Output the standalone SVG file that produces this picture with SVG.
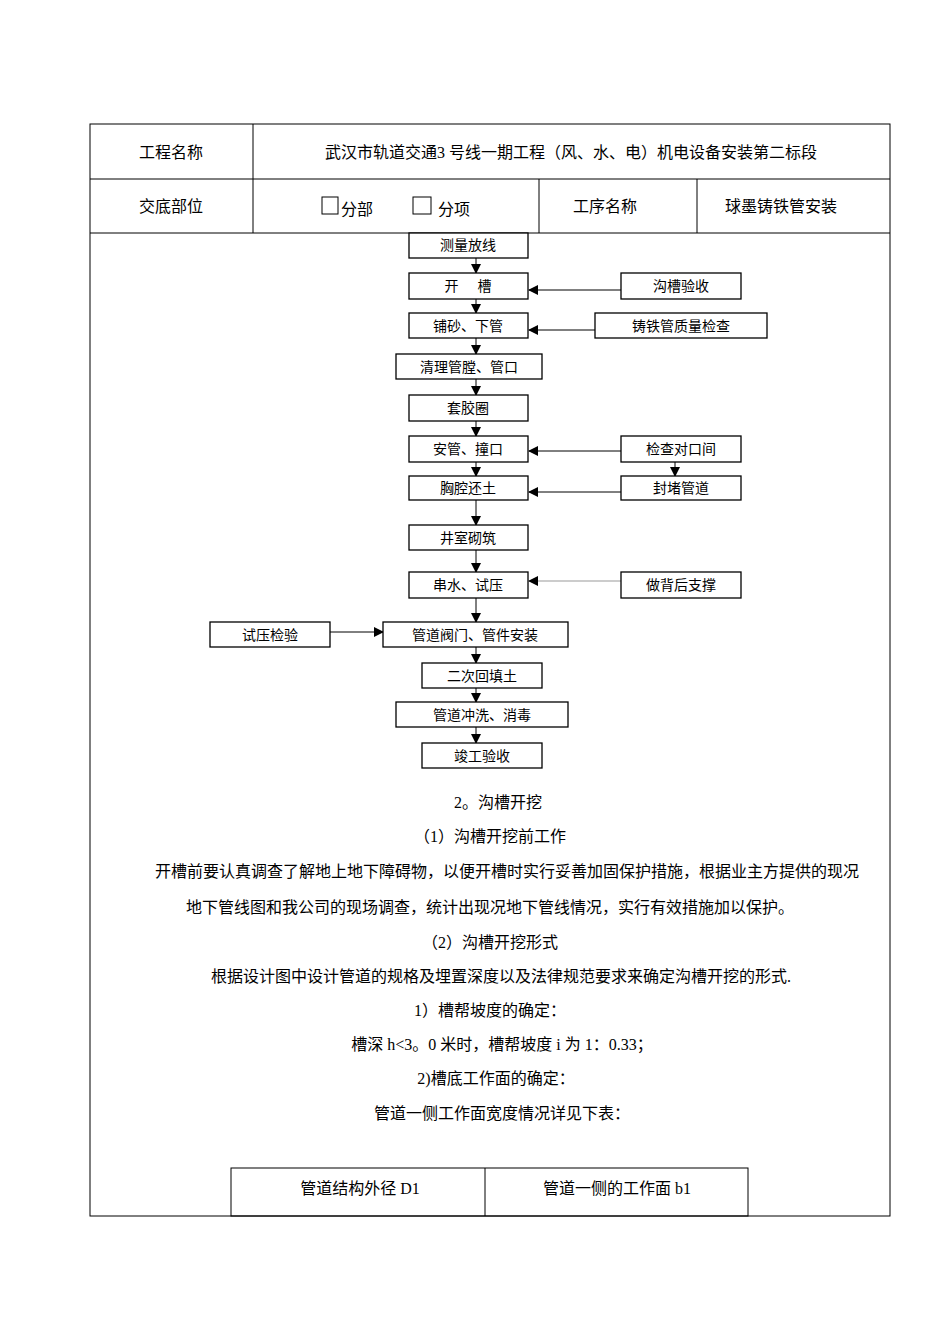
<svg xmlns="http://www.w3.org/2000/svg" width="950" height="1344" viewBox="0 0 950 1344">
<style>
.t{font-family:"Liberation Serif","Noto Sans CJK SC",serif;font-size:16px;fill:#000;text-anchor:middle}
.b{font-family:"Noto Sans CJK SC","Noto Sans",sans-serif;font-size:14px;fill:#000;text-anchor:middle}
.g rect{fill:#fff;stroke:#000;stroke-width:1.3}
.ln{stroke:#000;stroke-width:1;fill:none}
</style>
<defs><marker id="a" markerWidth="10" markerHeight="10" refX="9" refY="5" orient="auto" markerUnits="userSpaceOnUse"><path d="M0,0 L10,5 L0,10z" fill="#000"/></marker></defs>
<rect width="950" height="1344" fill="#fff"/>
<g id="table" class="ln">
<rect x="90" y="124" width="800" height="1092"/>
<line x1="90" y1="179" x2="890" y2="179"/><line x1="90" y1="233" x2="890" y2="233"/>
<line x1="253" y1="124" x2="253" y2="233"/><line x1="539" y1="179" x2="539" y2="233"/><line x1="697" y1="179" x2="697" y2="233"/>
<rect x="322" y="197" width="16" height="17"/><rect x="413" y="197" width="18" height="17"/>
<rect x="231" y="1168" width="517" height="48"/><line x1="485" y1="1168" x2="485" y2="1216"/>
</g>
<text class="t" x="571" y="158">武汉市轨道交通3 号线一期工程（风、水、电）机电设备安装第二标段</text>
<text class="t" x="171" y="158">工程名称</text>
<text class="t" x="171" y="212">交底部位</text>
<text class="t" x="357" y="215">分部</text><text class="t" x="454" y="215">分项</text>
<text class="t" x="605" y="212">工序名称</text>
<text class="t" x="781" y="212">球墨铸铁管安装</text>
<g id="connectors" class="ln" marker-end="url(#a)">
<line x1="476" y1="258" x2="476" y2="273"/><line x1="476" y1="299" x2="476" y2="313"/>
<line x1="476" y1="338" x2="476" y2="354"/><line x1="476" y1="379" x2="476" y2="395"/>
<line x1="476" y1="421" x2="476" y2="436"/><line x1="476" y1="462" x2="476" y2="476"/>
<line x1="476" y1="500" x2="476" y2="525"/>
<line x1="476" y1="550" x2="476" y2="572"/><line x1="476" y1="598" x2="476" y2="622"/>
<line x1="476" y1="647" x2="476" y2="663"/><line x1="476" y1="688" x2="476" y2="702"/>
<line x1="476" y1="727" x2="476" y2="743"/>
<line x1="621" y1="290" x2="529" y2="290"/><line x1="595" y1="330" x2="529" y2="330"/>
<line x1="621" y1="451" x2="529" y2="451"/><line x1="621" y1="492" x2="529" y2="492"/>
<line x1="621" y1="581" x2="529" y2="581" stroke="#999"/>
<line x1="675" y1="462" x2="675" y2="476"/>
<line x1="330" y1="632" x2="383" y2="632"/>
</g>
<g class="g">
<g id="n1"><rect x="409" y="233" width="119" height="25"/><text class="b" x="468" y="250">测量放线</text></g>
<g id="n2"><rect x="409" y="273" width="119" height="26"/><text class="b" x="468" y="291" xml:space="preserve">开      槽</text></g>
<g id="n3"><rect x="409" y="313" width="119" height="25"/><text class="b" x="468" y="331">铺砂、下管</text></g>
<g id="n4"><rect x="396" y="354" width="146" height="25"/><text class="b" x="469" y="372">清理管膛、管口</text></g>
<g id="n5"><rect x="409" y="395" width="119" height="26"/><text class="b" x="468" y="413">套胶圈</text></g>
<g id="n6"><rect x="409" y="436" width="119" height="26"/><text class="b" x="468" y="454">安管、撞口</text></g>
<g id="n7"><rect x="409" y="476" width="119" height="24"/><text class="b" x="468" y="493">胸腔还土</text></g>
<g id="n8"><rect x="409" y="525" width="119" height="25"/><text class="b" x="468" y="543">井室砌筑</text></g>
<g id="n9"><rect x="409" y="572" width="119" height="26"/><text class="b" x="468" y="590">串水、试压</text></g>
<g id="n10"><rect x="383" y="622" width="185" height="25"/><text class="b" x="475" y="640">管道阀门、管件安装</text></g>
<g id="n11"><rect x="422" y="663" width="120" height="25"/><text class="b" x="482" y="681">二次回填土</text></g>
<g id="n12"><rect x="396" y="702" width="172" height="25"/><text class="b" x="482" y="720">管道冲洗、消毒</text></g>
<g id="n13"><rect x="422" y="743" width="120" height="25"/><text class="b" x="482" y="761">竣工验收</text></g>
<g id="s1"><rect x="621" y="273" width="120" height="26"/><text class="b" x="681" y="291">沟槽验收</text></g>
<g id="s2"><rect x="595" y="313" width="172" height="25"/><text class="b" x="681" y="331">铸铁管质量检查</text></g>
<g id="s3"><rect x="621" y="436" width="120" height="26"/><text class="b" x="681" y="454">检查对口间</text></g>
<g id="s4"><rect x="621" y="476" width="120" height="24"/><text class="b" x="681" y="493">封堵管道</text></g>
<g id="s5"><rect x="621" y="572" width="120" height="26"/><text class="b" x="681" y="590">做背后支撑</text></g>
<g id="s6"><rect x="210" y="622" width="120" height="25"/><text class="b" x="270" y="640">试压检验</text></g>
</g>
<text class="t" x="498" y="808">2。沟槽开挖</text>
<text class="t" x="490" y="842">（1）沟槽开挖前工作</text>
<text class="t" x="507" y="877">开槽前要认真调查了解地上地下障碍物，以便开槽时实行妥善加固保护措施，根据业主方提供的现况</text>
<text class="t" x="490" y="913">地下管线图和我公司的现场调查，统计出现况地下管线情况，实行有效措施加以保护。</text>
<text class="t" x="490" y="948">（2）沟槽开挖形式</text>
<text class="t" x="501" y="982">根据设计图中设计管道的规格及埋置深度以及法律规范要求来确定沟槽开挖的形式.</text>
<text class="t" x="490" y="1016">1）槽帮坡度的确定：</text>
<text class="t" x="502" y="1050">槽深 h&lt;3。0 米时，槽帮坡度 i 为 1：0.33；</text>
<text class="t" x="496" y="1084">2)槽底工作面的确定：</text>
<text class="t" x="502" y="1119">管道一侧工作面宽度情况详见下表：</text>
<text class="t" x="360" y="1194">管道结构外径 D1</text>
<text class="t" x="617" y="1194">管道一侧的工作面 b1</text>
</svg>
